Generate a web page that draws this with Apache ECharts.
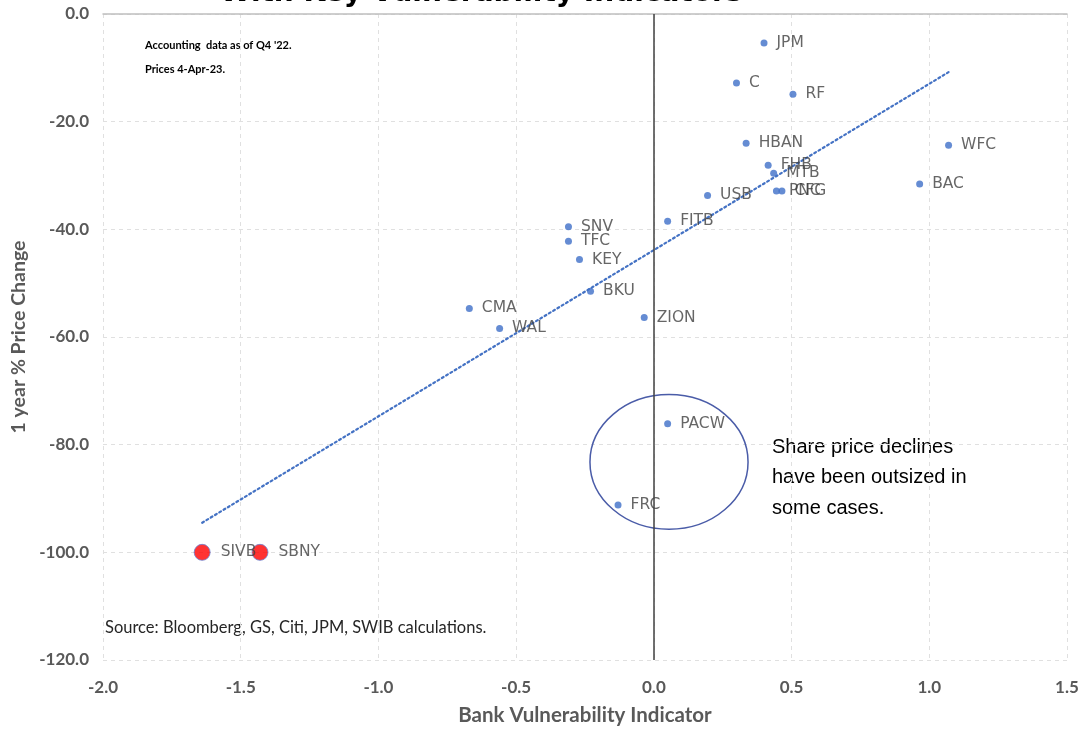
<!DOCTYPE html>
<html>
<head>
<meta charset="utf-8">
<script src="https://cdn.jsdelivr.net/npm/echarts@6/dist/echarts.min.js"></script>
<style>html,body{margin:0;padding:0;background:#fff;}#c{width:1082px;height:729px;}</style>
</head>
<body>
<div id="c"></div>
<script>
// Data
var bankNames = ['JPM','C','RF','WFC','HBAN','FHB','MTB','PNC','CFG','USB','BAC','FITB','SNV','TFC','KEY','BKU','CMA','WAL','ZION','PACW','FRC'];
var bankX = [0.40,0.30,0.505,1.07,0.335,0.415,0.435,0.445,0.465,0.195,0.965,0.05,-0.31,-0.31,-0.27,-0.23,-0.67,-0.56,-0.035,0.05,-0.13];
var bankY = [-5.4,-12.8,-14.9,-24.4,-24.0,-28.1,-29.6,-32.9,-32.9,-33.7,-31.6,-38.5,-39.5,-42.2,-45.6,-51.5,-54.7,-58.4,-56.4,-76.1,-91.2];
var failedNames = ['SIVB','SBNY'];
var failedX = [-1.64,-1.43];
var failedY = [-100,-100];
var trendX = [-1.64,1.07];
var trendY = [-94.5,-10.8];
var xTicks = [-2.0,-1.5,-1.0,-0.5,0.0,0.5,1.0,1.5];
var yTicks = [0,-20,-40,-60,-80,-100,-120];

var chart = echarts.init(document.getElementById('c'));
var labelStyle = {show:true, position:'right', distance:9, formatter:function(p){return p.data.name;}, fontFamily:'DejaVu Sans', fontSize:15.5, color:'#404040'};
var tickFont = {fontFamily:'Lato', fontWeight:'bold', fontSize:17, color:'#595959'};

var option = {
  backgroundColor:'#fff',
  animation:false,
  grid:{left:103, right:15, top:14, bottom:69, containLabel:false, outerBoundsMode:'none'},
  xAxis:[{
    type:'value', min:-2, max:1.5, interval:0.5, position:'bottom',
    axisLine:{show:false}, axisTick:{show:false},
    axisLabel:Object.assign({margin:19, formatter:function(v){return v.toFixed(1);}}, tickFont),
    splitLine:{show:true, lineStyle:{color:'#e0e0e0', type:[4,4], width:1}},
    name:'Bank Vulnerability Indicator', nameLocation:'middle', nameGap:45,
    nameTextStyle:{fontFamily:'Lato', fontWeight:'bold', fontSize:20.5, color:'#595959'}
  },{
    type:'value', min:-2, max:1.5, position:'top',
    axisLine:{show:true, onZero:false, lineStyle:{color:'#bfbfbf', width:1.5}},
    axisTick:{show:false}, axisLabel:{show:false}, splitLine:{show:false}
  }],
  yAxis:{
    type:'value', min:-120, max:0, interval:20,
    axisLine:{show:false}, axisTick:{show:false},
    axisLabel:Object.assign({margin:14, formatter:function(v){return v.toFixed(1);}}, tickFont),
    splitLine:{show:true, lineStyle:{color:'#e0e0e0', type:[4,4], width:1}},
    name:'1 year % Price Change', nameLocation:'middle', nameGap:71,
    nameTextStyle:{fontFamily:'Lato', fontWeight:'bold', fontSize:19.5, color:'#595959'}
  },
  series:[
    {
      type:'line', xAxisIndex:0, data:trendX.map(function(x,i){return [x,trendY[i]];}),
      symbol:'none', lineStyle:{color:'#4472C4', width:2.2, type:[2,3], cap:'round'}, z:2,
      markLine:{silent:true, symbol:'none', label:{show:false},
        lineStyle:{color:'#404040', width:1.5, type:'solid'},
        data:[{xAxis:0}]}
    },
    {
      type:'scatter', xAxisIndex:0, symbolSize:7,
      itemStyle:{color:'#3f6fc8'},
      label:labelStyle,
      data:bankNames.map(function(n,i){return {name:n, value:[bankX[i],bankY[i]]};}), z:3
    },
    {
      type:'scatter', xAxisIndex:0, symbolSize:16,
      itemStyle:{color:'#ff0000', borderColor:'#6a7fd0', borderWidth:1},
      label:Object.assign({}, labelStyle, {distance:10}),
      data:failedNames.map(function(n,i){return {name:n, value:[failedX[i],failedY[i]]};}), z:4
    }
  ],
  graphic:[
    {type:'text', left:220, top:-20, style:{text:'With Key Vulnerability Indicators', fontFamily:'DejaVu Sans', fontWeight:'bold', fontSize:28, fill:'#000'}},
    {type:'text', left:145, top:40, style:{text:"Accounting  data as of Q4 '22.", fontFamily:'Lato', fontWeight:'bold', fontSize:11, fill:'#000'}},
    {type:'text', left:145, top:64, style:{text:'Prices 4-Apr-23.', fontFamily:'Lato', fontWeight:'bold', fontSize:11, fill:'#000'}},
    {type:'text', left:105, top:619, style:{text:'Source: Bloomberg, GS, Citi, JPM, SWIB calculations.', fontFamily:'Lato', fontSize:16.5, fill:'#262626'}},
    {type:'text', left:772, top:432, style:{text:'Share price declines\nhave been outsized in\nsome cases.', fontFamily:'Liberation Sans', fontSize:20, lineHeight:30.5, fill:'#000'}}
  ]
};
chart.setOption(option);

// Ellipse annotation (data coordinates)
var ellCx = 0.055, ellCy = -83.2, ellRx = 0.287, ellRy = 12.5;
var c0 = chart.convertToPixel({xAxisIndex:0, yAxisIndex:0}, [ellCx, ellCy]);
var c1 = chart.convertToPixel({xAxisIndex:0, yAxisIndex:0}, [ellCx + ellRx, ellCy + ellRy]);
var g = option.graphic.slice();
g.push({type:'ellipse', shape:{cx:c0[0], cy:c0[1], rx:Math.abs(c1[0]-c0[0]), ry:Math.abs(c1[1]-c0[1])},
  style:{fill:'none', stroke:'#4a5ca8', lineWidth:1.5}, z:5});
chart.setOption({graphic:g});
</script>
</body>
</html>
